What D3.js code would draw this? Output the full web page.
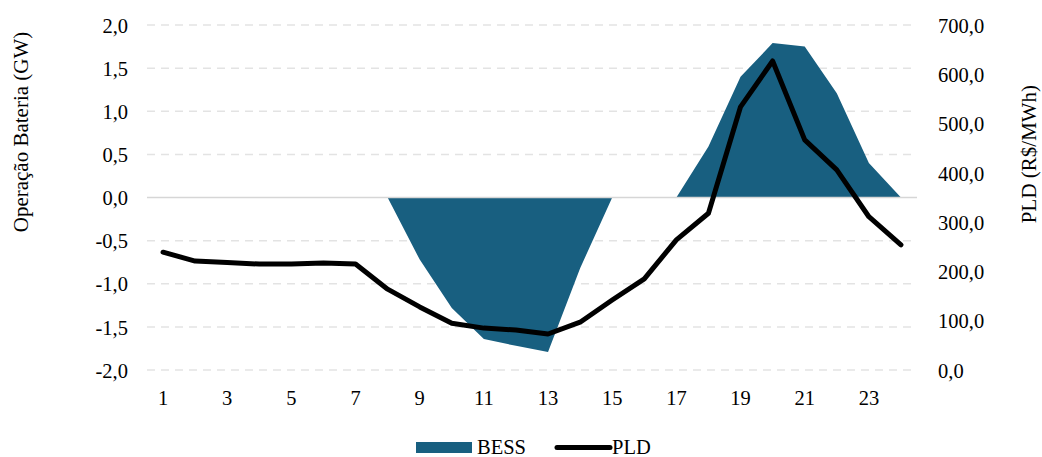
<!DOCTYPE html>
<html>
<head>
<meta charset="utf-8">
<script src="https://cdn.jsdelivr.net/npm/d3@7"></script>
<style>
  body { margin: 0; background: #fff; }
</style>
</head>
<body>
<svg id="chart" width="1042" height="457"></svg>
<script>
// Hourly battery operation (GW) and settlement price PLD (R$/MWh)
const hours = d3.range(1, 25);
const bess = [0, 0, 0, 0, 0, 0, 0, 0, -0.72, -1.28, -1.64, -1.72, -1.79, -0.82, 0, 0,
              0, 0.59, 1.40, 1.79, 1.75, 1.21, 0.40, 0];
const pld = [239, 221, 218, 215, 215, 217, 215, 164, 128, 95, 85, 81, 73, 97, 142, 185,
             264, 318, 534, 627, 467, 406, 311, 254];
const leftTicks = [-2, -1.5, -1, -0.5, 0, 0.5, 1, 1.5, 2];
const rightTicks = [0, 100, 200, 300, 400, 500, 600, 700];
const xTickLabels = [1, 3, 5, 7, 9, 11, 13, 15, 17, 19, 21, 23];

const FONT = "'Liberation Serif', 'Times New Roman', Times, serif";

const svg = d3.select("#chart")
  .attr("font-family", FONT);
const plot = { left: 147, right: 917, top: 25, bottom: 370 };

const x = d3.scaleBand().domain(hours).range([plot.left, plot.right]);
const cx = h => x(h) + x.bandwidth() / 2;
const yL = d3.scaleLinear().domain([-2, 2]).range([plot.bottom, plot.top]);
const yR = d3.scaleLinear().domain([0, 700]).range([plot.bottom, plot.top]);

// decimal comma, plain hyphen for negatives
const fmt = v => d3.format(".1f")(v).replace("\u2212", "-").replace(".", ",");

// dashed horizontal gridlines
svg.append("g")
  .selectAll("line")
  .data(leftTicks.filter(v => v !== 0))
  .join("line")
  .attr("x1", plot.left).attr("x2", plot.right)
  .attr("y1", d => yL(d)).attr("y2", d => yL(d))
  .attr("stroke", "#e3e3e3").attr("stroke-width", 1.5)
  .attr("stroke-dasharray", "8,6");

// BESS area
const area = d3.area()
  .x((d, i) => cx(hours[i]))
  .y0(yL(0))
  .y1(d => yL(d));
svg.append("path")
  .datum(bess)
  .attr("d", area)
  .attr("fill", "#185f80");

// zero baseline
svg.append("line")
  .attr("x1", plot.left).attr("x2", plot.right)
  .attr("y1", yL(0)).attr("y2", yL(0))
  .attr("stroke", "#d6d6d6").attr("stroke-width", 1.5);

// PLD line
const line = d3.line()
  .x((d, i) => cx(hours[i]))
  .y(d => yR(d));
svg.append("path")
  .datum(pld)
  .attr("d", line)
  .attr("fill", "none")
  .attr("stroke", "#000")
  .attr("stroke-width", 5)
  .attr("stroke-linejoin", "round")
  .attr("stroke-linecap", "round");

function styleAxis(g, dy) {
  g.attr("font-family", FONT).attr("font-size", 20.5);
  g.select(".domain").remove();
  g.selectAll("text").attr("fill", "#000").attr("dy", dy);
}

// left axis
svg.append("g")
  .attr("transform", `translate(${plot.left - 19},0)`)
  .call(d3.axisLeft(yL).tickValues(leftTicks).tickFormat(fmt).tickSize(0).tickPadding(0))
  .call(g => styleAxis(g, "0.35em"));

// right axis
svg.append("g")
  .attr("transform", `translate(${plot.right + 21},0)`)
  .call(d3.axisRight(yR).tickValues(rightTicks).tickFormat(fmt).tickSize(0).tickPadding(0))
  .call(g => styleAxis(g, "0.35em"));

// bottom axis
svg.append("g")
  .attr("transform", `translate(0,${plot.bottom + 20})`)
  .call(d3.axisBottom(x).tickValues(xTickLabels).tickSize(0).tickPadding(0))
  .call(g => styleAxis(g, "0.75em"));

// axis titles
svg.append("text")
  .attr("transform", "translate(28,132) rotate(-90)")
  .attr("text-anchor", "middle")
  .attr("font-size", 21)
  .text("Operação Bateria (GW)");
svg.append("text")
  .attr("transform", "translate(1036,154) rotate(-90)")
  .attr("text-anchor", "middle")
  .attr("font-size", 21)
  .text("PLD (R$/MWh)");

// legend
const lg = svg.append("g").attr("font-size", 20.5);
lg.append("rect").attr("x", 416).attr("y", 442).attr("width", 56).attr("height", 11).attr("fill", "#185f80");
lg.append("text").attr("x", 477).attr("y", 454).text("BESS");
lg.append("line").attr("x1", 557).attr("x2", 610).attr("y1", 447.5).attr("y2", 447.5)
  .attr("stroke", "#000").attr("stroke-width", 5).attr("stroke-linecap", "round");
lg.append("text").attr("x", 612).attr("y", 454).text("PLD");
</script>
</body>
</html>
